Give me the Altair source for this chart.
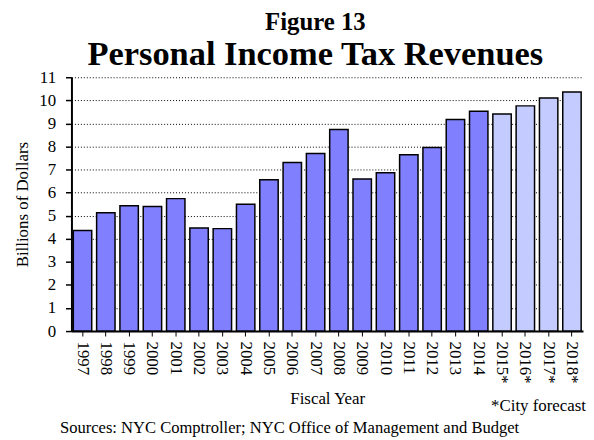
import altair as alt
import pandas as pd

years = ["1997", "1998", "1999", "2000", "2001", "2002", "2003", "2004", "2005", "2006", "2007",
         "2008", "2009", "2010", "2011", "2012", "2013", "2014", "2015*", "2016*", "2017*", "2018*"]
revenues = [4.36, 5.13, 5.43, 5.40, 5.74, 4.47, 4.44, 5.50, 6.56, 7.31, 7.70,
            8.74, 6.59, 6.86, 7.64, 7.96, 9.17, 9.53, 9.41, 9.76, 10.10, 10.36]
kind = ["Actual"] * 18 + ["Forecast"] * 4

df = pd.DataFrame({"year": years, "value": revenues, "kind": kind})

FONT = "Liberation Serif"
W, H = 516, 256

bars = alt.Chart(df).mark_bar(stroke="black", strokeWidth=1.5).encode(
    x=alt.X("year:N", sort=years,
            scale=alt.Scale(paddingInner=0.21, paddingOuter=0.08),
            axis=alt.Axis(title="Fiscal Year", labelAngle=90, labelAlign="left",
                          labelBaseline="middle", labelFontSize=17, titleFontSize=17,
                          labelFont=FONT, titleFont=FONT,
                          titleFontWeight="normal", labelPadding=5, titlePadding=8,
                          domainColor="black", domainWidth=2, tickColor="black",
                          tickSize=5, tickWidth=1, labelColor="black", titleColor="black",
                          grid=False)),
    y=alt.Y("value:Q", scale=alt.Scale(domain=[0, 11], nice=False),
            axis=alt.Axis(title="Billions of Dollars", values=list(range(0, 12)),
                          labelFontSize=17, titleFontSize=17, titleFontWeight="normal",
                          labelFont=FONT, titleFont=FONT,
                          domainColor="black", domainWidth=2, tickColor="black",
                          tickSize=6, tickWidth=1.5, labelColor="black", titleColor="black",
                          grid=True, gridColor="black", gridDash=[1, 2], gridWidth=1,
                          titlePadding=7, labelPadding=10)),
    color=alt.Color("kind:N", scale=alt.Scale(domain=["Actual", "Forecast"],
                                              range=["#8080FF", "#C4CCFF"]),
                    legend=None),
)

note_df = pd.DataFrame({"t": ["*City forecast"]})
note = alt.Chart(note_df).mark_text(font=FONT, fontSize=17, align="right", baseline="alphabetic",
                                    color="black").encode(
    text="t:N", x=alt.value(W + 3), y=alt.value(H + 81))

src_df = pd.DataFrame({"t": ["Sources: NYC Comptroller; NYC Office of Management and Budget"]})
src = alt.Chart(src_df).mark_text(font=FONT, fontSize=16.7, align="center", baseline="alphabetic",
                                  color="black").encode(
    text="t:N", x=alt.value(W / 2 - 38), y=alt.value(H + 103))

chart = alt.layer(bars, note, src).properties(
    width=W, height=H,
    title=alt.TitleParams(text="Figure 13", subtitle="Personal Income Tax Revenues",
                          font=FONT, fontSize=25, fontWeight="bold", color="black",
                          subtitleFont=FONT, subtitleFontSize=34.7, subtitleFontWeight="bold",
                          subtitleColor="black", subtitlePadding=3, anchor="middle", offset=-3,
                          dx=-12),
    padding={"left": 6, "top": 0, "right": 0, "bottom": 0},
).configure_view(stroke=None)

chart.save("out.html", embed_options={"renderer": "svg", "actions": False})
